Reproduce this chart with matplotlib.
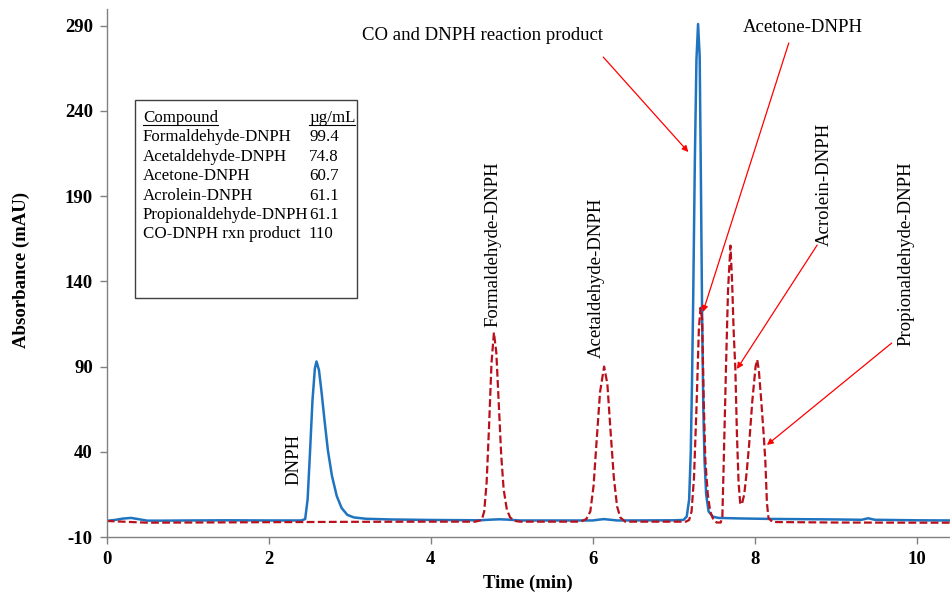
import matplotlib
matplotlib.use("Agg")
import matplotlib.pyplot as plt
from matplotlib.lines import Line2D

plt.rcParams['font.family'] = ['Liberation Serif', 'DejaVu Serif']
plt.rcParams['axes.unicode_minus'] = False

# blue trace (time in min, absorbance in mAU)
blue_t = [0.00, 0.10, 0.20, 0.30, 0.40, 0.50, 0.70, 1.00, 1.50, 2.00, 2.40, 2.45,
          2.48, 2.51, 2.54, 2.57, 2.59, 2.62, 2.65, 2.69, 2.73, 2.78, 2.84, 2.90,
          2.97, 3.05, 3.20, 3.50, 4.00, 4.60, 4.75, 4.85, 4.95, 5.10, 6.00, 6.08,
          6.14, 6.20, 6.30, 7.00, 7.12, 7.16, 7.19, 7.21, 7.225, 7.24, 7.26, 7.28,
          7.30, 7.32, 7.335, 7.35, 7.365, 7.38, 7.40, 7.43, 7.48, 7.55, 7.80, 8.20,
          9.00, 9.32, 9.40, 9.48, 10.00, 10.45]
blue_v = [-0.5, 0.0, 0.8, 1.2, 0.4, -0.4, -0.4, -0.3, -0.2, -0.3, -0.3, 0.5,
          12, 40, 70, 89, 93, 88, 76, 58, 41, 26, 14, 7,
          3, 1.5, 0.7, 0.3, 0.0, -0.2, 0.2, 0.4, 0.2, -0.3, -0.3, 0.2,
          0.5, 0.2, -0.3, -0.2, 0.0, 2, 12, 40, 80, 130, 210, 270,
          291, 272, 200, 120, 65, 35, 15, 5, 2, 1.2, 0.9, 0.6,
          0.3, 0.1, 1.0, 0.1, -0.2, -0.3]

# red dashed trace
red_t = [0.00, 0.20, 0.50, 1.00, 2.00, 3.00, 4.00, 4.55, 4.63, 4.66, 4.69, 4.72,
         4.75, 4.78, 4.81, 4.84, 4.87, 4.90, 4.94, 4.98, 5.03, 5.10, 5.50, 5.85,
         5.92, 5.97, 6.01, 6.05, 6.09, 6.14, 6.18, 6.22, 6.26, 6.30, 6.34, 6.40,
         7.00, 7.15, 7.19, 7.22, 7.25, 7.28, 7.31, 7.33, 7.35, 7.37, 7.39, 7.42,
         7.45, 7.49, 7.53, 7.58, 7.60, 7.62, 7.645, 7.67, 7.70, 7.72, 7.74, 7.76,
         7.78, 7.80, 7.82, 7.84, 7.87, 7.90, 7.93, 7.97, 8.01, 8.03, 8.05, 8.08,
         8.11, 8.13, 8.15, 8.17, 8.22, 9.00, 10.00, 10.45]
red_v = [-0.6, -1.0, -1.6, -1.5, -1.3, -1.1, -1.0, -1.0, 0, 5, 22, 55,
         92, 110, 98, 68, 38, 18, 6, 1.5, -0.5, -1.0, -1.0, -1.0,
         0.5, 5, 20, 48, 75, 90, 80, 52, 25, 8, 1.5, -1.0,
         -1.0, -1.0, 0, 5, 25, 65, 112, 124.5, 118, 70, 35, 15,
         5, 0, -1.5, -1.5, 2, 40, 90, 135, 161, 140, 110, 89,
         50, 22, 10, 9, 15, 28, 44, 70, 90, 94, 88, 70,
         50, 35, 10, 1, -1.2, -1.5, -1.6, -1.6]

x_ticks = [0, 2, 4, 6, 8, 10]
y_ticks = [-10, 40, 90, 140, 190, 240, 290]

# peak labels: text, x, y (bottom of rotated text)
peak_labels = ["DNPH", "Formaldehyde-DNPH", "Acetaldehyde-DNPH", "Acrolein-DNPH", "Propionaldehyde-DNPH"]
peak_label_x = [2.31, 4.77, 6.05, 8.86, 9.87]
peak_label_y = [20.5, 113.4, 95.0, 160.5, 101.8]

# arrows: (tip x, tip y, start x, start y)
arrow_tip_x = [7.18, 7.36, 7.78, 8.15]
arrow_tip_y = [215.9, 122.0, 88.6, 44.0]
arrow_start_x = [6.13, 8.42, 8.77, 9.69]
arrow_start_y = [271.6, 279.9, 161.3, 103.8]

compounds = ["Formaldehyde-DNPH", "Acetaldehyde-DNPH", "Acetone-DNPH",
             "Acrolein-DNPH", "Propionaldehyde-DNPH", "CO-DNPH rxn product"]
concentrations = ["99.4", "74.8", "60.7", "61.1", "61.1", "110"]

W, H = 950, 596
fig = plt.figure(figsize=(9.5, 5.96), dpi=100)
ax = fig.add_axes([106.7 / W, 59 / H, 843.3 / W, 528.3 / H])

ax.plot(blue_t, blue_v, color="#1f74c0", lw=1.8, solid_joinstyle="round")
ax.plot(red_t, red_v, color="#b8111c", lw=1.6, dashes=(3.5, 1.5))

ax.set_xlim(0, 10.41)
ax.set_ylim(-10, 300)
ax.set_xticks(x_ticks)
ax.set_yticks(y_ticks)
for s in ["top", "right"]:
    ax.spines[s].set_visible(False)
for s in ["left", "bottom"]:
    ax.spines[s].set_color("#808080")
    ax.spines[s].set_linewidth(1.0)
ax.tick_params(direction="out", length=5, width=1, color="#808080", labelsize=13.5, pad=5)
for lab in ax.get_xticklabels() + ax.get_yticklabels():
    lab.set_fontweight("bold")

ax.set_xlabel("Time (min)", fontsize=13.5, fontweight="bold")
ax.set_ylabel("Absorbance (mAU)", fontsize=13.5, fontweight="bold")
ax.xaxis.set_label_coords(0.5, -0.072)
ax.yaxis.set_label_coords(-0.091, 0.505)

for txt, x, y in zip(peak_labels, peak_label_x, peak_label_y):
    ax.text(x, y, txt, rotation=90, ha="center", va="bottom", fontsize=13.5)

ax.text(4.64, 284, "CO and DNPH reaction product", ha="center", va="center", fontsize=13.5)
ax.text(8.59, 289.2, "Acetone-DNPH", ha="center", va="center", fontsize=13.5)

for tx, ty, sx, sy in zip(arrow_tip_x, arrow_tip_y, arrow_start_x, arrow_start_y):
    ax.annotate("", xy=(tx, ty), xytext=(sx, sy),
                arrowprops=dict(arrowstyle="-|>", color="red", lw=0.9,
                                mutation_scale=9, shrinkA=0, shrinkB=0))

# concentration table box
box = plt.Rectangle((135 / W, 1 - 298 / H), 222 / W, 198 / H, transform=fig.transFigure,
                    fill=False, edgecolor="#404040", lw=1.0)
fig.add_artist(box)

def fy(y):
    return 1 - y / H

h1 = fig.text(143 / W, fy(122), "Compound", fontsize=12.2, va="baseline")
h2 = fig.text(309 / W, fy(122), "\u00b5g/mL", fontsize=12.2, va="baseline")
for i, (c, v) in enumerate(zip(compounds, concentrations)):
    y = 122 + 19.4 * (i + 1)
    fig.text(143 / W, fy(y), c, fontsize=12.2, va="baseline")
    fig.text(309 / W, fy(y), v, fontsize=12.2, va="baseline")

fig.canvas.draw()
r = fig.canvas.get_renderer()
for h in (h1, h2):
    bb = h.get_window_extent(r)
    fig.add_artist(Line2D([bb.x0 / W, bb.x1 / W], [fy(125), fy(125)],
                          transform=fig.transFigure, color="black", lw=0.8))

fig.savefig("out.png", dpi=100)
